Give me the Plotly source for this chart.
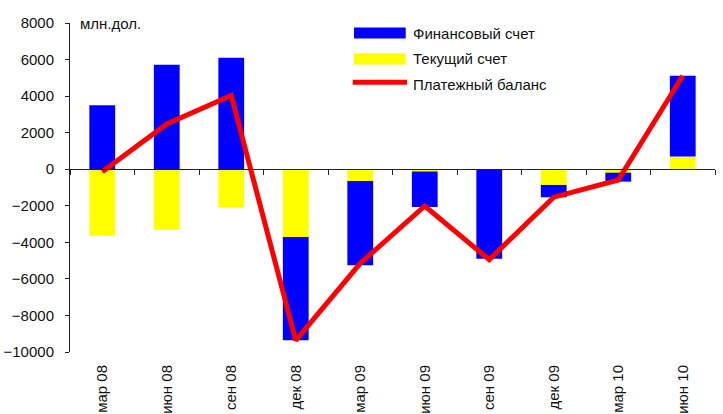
import plotly.graph_objects as go

# Quarterly balance-of-payments components, million dollars
quarters = ["мар 08", "июн 08", "сен 08", "дек 08", "мар 09",
            "июн 09", "сен 09", "дек 09", "мар 10", "июн 10"]
current_account = [-3640, -3310, -2100, -3710, -640, -130, -30, -860, -190, 690]
financial_account = [3500, 5720, 6100, -5650, -4610, -1940, -4870, -675, -490, 4425]
balance = [-140, 2480, 4030, -9360, -5150, -2010, -4950, -1530, -590, 5115]

series_names = ["Финансовый счет", "Текущий счет", "Платежный баланс"]
unit_label = "млн.дол."
y_range = [-10000, 8000]

BLUE, YELLOW, RED = "#0000FF", "#FFFF00", "#FF0000"
FONT = "Liberation Sans, Arial, sans-serif"
AXIS = "#222222"

fig = go.Figure()
# current account stacks next to zero, financial account beyond it
fig.add_trace(go.Bar(x=quarters, y=current_account, name=series_names[1],
                     marker=dict(color=YELLOW, line=dict(width=0))))
fig.add_trace(go.Bar(x=quarters, y=financial_account, name=series_names[0],
                     marker=dict(color=BLUE, line=dict(width=0))))
fig.add_trace(go.Scatter(x=quarters, y=balance, name=series_names[2], mode="lines",
                         line=dict(color=RED, width=5)))
# carrier trace for the axis drawn along y = 0
fig.add_trace(go.Scatter(x=quarters, y=balance, xaxis="x2", mode="markers",
                         marker=dict(opacity=0), hoverinfo="skip", showlegend=False))

zero_pos = (0 - y_range[0]) / (y_range[1] - y_range[0])

fig.update_layout(
    width=723, height=414,
    margin=dict(l=70, r=8, t=23, b=62),
    paper_bgcolor="white", plot_bgcolor="white",
    barmode="relative", bargap=0.6,
    showlegend=False,
    font=dict(family=FONT, size=15, color="#111111"),
    xaxis=dict(type="category", categoryarray=quarters, range=[-0.5, 9.5],
               showline=False, ticks="", showgrid=False, zeroline=False,
               automargin=False, tickangle=-90, ticklabelstandoff=9,
               tickfont=dict(size=15)),
    xaxis2=dict(type="category", categoryarray=quarters, range=[-0.5, 9.5],
                overlaying="x", anchor="free", position=zero_pos,
                showline=True, linecolor=AXIS, linewidth=1, automargin=False,
                ticks="outside", ticklen=5, tickcolor=AXIS, tickson="boundaries",
                showticklabels=False, showgrid=False, zeroline=False),
    yaxis=dict(range=y_range, dtick=2000, tickformat="d", showline=True,
               linecolor=AXIS, linewidth=1, automargin=False,
               ticks="outside", ticklen=4, tickcolor=AXIS, showgrid=False,
               zeroline=False, ticklabelstandoff=8, tickfont=dict(size=15)),
)

fig.add_annotation(text=unit_label, xref="paper", yref="paper", x=0.012, y=0.997,
                   xanchor="left", yanchor="middle", showarrow=False,
                   font=dict(size=15))

# legend drawn as swatches and labels
swatch_x0, swatch_x1, text_x = 0.4403, 0.5205, 0.5287
legend_rows = [(0.9696, "bar", BLUE, series_names[0]),
               (0.891, "bar", YELLOW, series_names[1]),
               (0.812, "line", RED, series_names[2])]
for yc, kind, color, label in legend_rows:
    if kind == "bar":
        fig.add_shape(type="rect", xref="paper", yref="paper",
                      x0=swatch_x0, x1=swatch_x1, y0=yc - 0.017, y1=yc + 0.017,
                      fillcolor=color, line=dict(width=0))
    else:
        fig.add_shape(type="line", xref="paper", yref="paper",
                      x0=swatch_x0 - 0.002, x1=swatch_x1 + 0.002, y0=yc + 0.008, y1=yc + 0.008,
                      line=dict(color=color, width=5))
    fig.add_annotation(text=label, xref="paper", yref="paper", x=text_x, y=yc,
                       xanchor="left", yanchor="middle", showarrow=False,
                       font=dict(size=15))

fig.write_html("out.html")
